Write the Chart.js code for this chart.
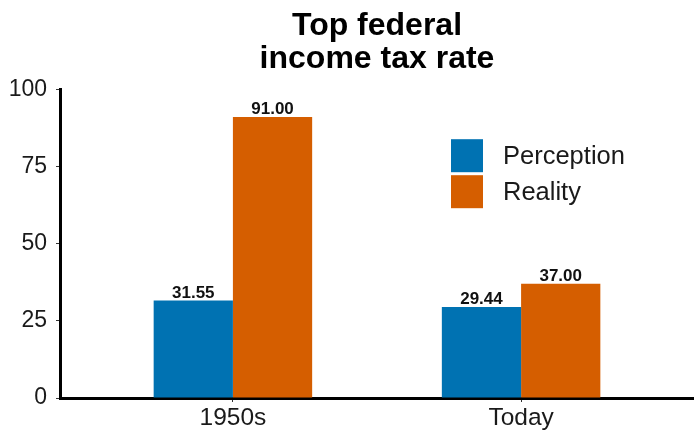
<!DOCTYPE html>
<html>
<head>
<meta charset="utf-8">
<script src="https://cdn.jsdelivr.net/npm/chart.js@4"></script>
<style>
  html, body { margin: 0; padding: 0; background: #fff; }
  #wrap { width: 694px; height: 434px; }
</style>
</head>
<body>
<div id="wrap"><canvas id="chartTax"></canvas></div>
<script>
// datos del grafico
const categorias = ['1950s', 'Today'];
const posiciones = [1, 2];
const percepcion = [31.55, 29.44];
const realidad = [91.00, 37.00];
const ticksY = [0, 25, 50, 75, 100];

const azul = '#0072B2';
const naranja = '#D55E00';
const fuente = '"Liberation Sans", Arial, sans-serif';

// etiquetas encima de las barras
const etiquetasBarras = {
    id: 'etiquetasBarras',
    afterDatasetsDraw(chart) {
        const ctx = chart.ctx;
        ctx.save();
        ctx.font = 'bold 17px ' + fuente;
        ctx.fillStyle = '#111';
        ctx.textAlign = 'center';
        ctx.textBaseline = 'alphabetic';
        chart.data.datasets.forEach((ds, i) => {
            chart.getDatasetMeta(i).data.forEach((bar, j) => {
                ctx.fillText(ds.data[j].y.toFixed(2), bar.x, bar.y - 3);
            });
        });
        ctx.restore();
    }
};

// leyenda dentro del area del grafico
const leyendaInterna = {
    id: 'leyendaInterna',
    afterDraw(chart) {
        const ctx = chart.ctx;
        const a = chart.chartArea;
        const x0 = a.left + 391;
        let y0 = a.top + 50;
        ctx.save();
        ctx.font = '25.5px ' + fuente;
        ctx.textBaseline = 'middle';
        ctx.textAlign = 'left';
        chart.data.datasets.forEach(ds => {
            ctx.fillStyle = ds.backgroundColor;
            ctx.fillRect(x0, y0, 32, 33);
            ctx.fillStyle = '#1a1a1a';
            ctx.fillText(ds.label, x0 + 52, y0 + 18);
            y0 += 36;
        });
        ctx.restore();
    }
};

const ctxTax = document.getElementById('chartTax').getContext('2d');
new Chart(ctxTax, {
    type: 'bar',
    data: {
        datasets: [{
            label: 'Perception',
            data: posiciones.map((p, i) => ({ x: p, y: percepcion[i] })),
            backgroundColor: azul,
            borderWidth: 0
        }, {
            label: 'Reality',
            data: posiciones.map((p, i) => ({ x: p, y: realidad[i] })),
            backgroundColor: naranja,
            borderWidth: 0
        }]
    },
    plugins: [etiquetasBarras, leyendaInterna],
    options: {
        responsive: true,
        maintainAspectRatio: false,
        animation: false,
        categoryPercentage: 0.55,
        barPercentage: 1,
        layout: { padding: { top: 9, right: 0, left: 0, bottom: 0 } },
        plugins: {
            legend: { display: false },
            tooltip: { enabled: false },
            title: {
                display: true,
                fullSize: false,
                text: ['Top federal', 'income tax rate'],
                color: '#000',
                font: { family: fuente, size: 32, weight: 'bold', lineHeight: 1.05 },
                padding: { top: 0, bottom: 13 }
            }
        },
        scales: {
            x: {
                type: 'linear',
                offset: false,
                min: 0.4,
                max: 2.6,
                afterBuildTicks: s => { s.ticks = posiciones.map(v => ({ value: v })); },
                afterFit: s => { s.height = 36; },
                ticks: {
                    callback: (v) => categorias[posiciones.indexOf(v)] || '',
                    color: '#1a1a1a',
                    font: { family: fuente, size: 24.5 },
                    padding: 2
                },
                grid: { offset: false, drawOnChartArea: false, tickLength: 4, color: '#333', tickWidth: 1 },
                border: { color: '#000', width: 3 }
            },
            y: {
                min: 0,
                max: 100,
                afterBuildTicks: s => { s.ticks = ticksY.map(v => ({ value: v })); },
                afterFit: s => { s.width = 60; },
                ticks: {
                    color: '#1a1a1a',
                    font: { family: fuente, size: 23 },
                    padding: 9
                },
                grid: { drawOnChartArea: false, tickLength: 4, color: '#333', tickWidth: 1 },
                border: { color: '#000', width: 3 }
            }
        }
    }
});
</script>
</body>
</html>
